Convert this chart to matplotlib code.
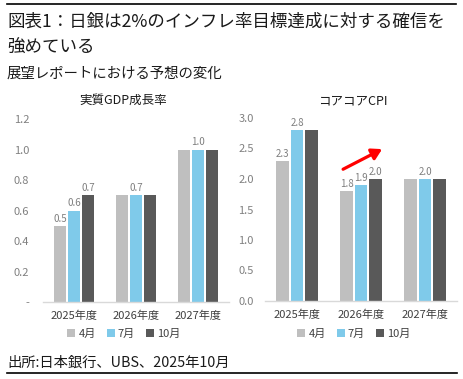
import matplotlib
matplotlib.use("Agg")
import matplotlib.pyplot as plt
from matplotlib.lines import Line2D
from matplotlib.patches import Patch
import numpy as np

plt.rcParams['font.family'] = ['Noto Sans CJK JP', 'DejaVu Sans']

title_lines = ["図表1：日銀は2%のインフレ率目標達成に対する確信を", "強めている"]
subtitle = "展望レポートにおける予想の変化"
source = "出所:日本銀行、UBS、2025年10月"

categories = ["2025年度", "2026年度", "2027年度"]
series_names = ["4月", "7月", "10月"]
colors = ["#BFBFBF", "#7FCAEA", "#595959"]

gdp_title = "実質GDP成長率"
gdp_apr = [0.5, 0.7, 1.0]
gdp_jul = [0.6, 0.7, 1.0]
gdp_oct = [0.7, 0.7, 1.0]
gdp_ticks = [0.0, 0.2, 0.4, 0.6, 0.8, 1.0, 1.2]
gdp_ticklabels = ["-", "0.2", "0.4", "0.6", "0.8", "1.0", "1.2"]
# which bars carry a value label: (series index, category index)
gdp_labelled = [(0, 0), (1, 0), (2, 0), (1, 1), (1, 2)]

cpi_title = "コアコアCPI"
cpi_apr = [2.3, 1.8, 2.0]
cpi_jul = [2.8, 1.9, 2.0]
cpi_oct = [2.8, 2.0, 2.0]
cpi_ticks = [0.0, 0.5, 1.0, 1.5, 2.0, 2.5, 3.0]
cpi_ticklabels = ["0.0", "0.5", "1.0", "1.5", "2.0", "2.5", "3.0"]
cpi_labelled = [(0, 0), (1, 0), (0, 1), (1, 1), (2, 1), (1, 2)]

W, H = 464, 379
fig = plt.figure(figsize=(W / 100, H / 100), dpi=100)

def fx(px):
    return px / W

def fy(py):
    return 1 - py / H

# header / footer lines
fig.add_artist(Line2D([fx(7), fx(456)], [fy(4), fy(4)], color="black", lw=1.2))
fig.add_artist(Line2D([fx(7), fx(457)], [fy(373), fy(373)], color="black", lw=1.2))

fig.text(fx(7), fy(22), title_lines[0], fontsize=12.6, va="center", ha="left", color="#1a1a1a")
fig.text(fx(7), fy(48), title_lines[1], fontsize=12.6, va="center", ha="left", color="#1a1a1a")
fig.text(fx(7), fy(74), subtitle, fontsize=10.4, va="center", ha="left", color="#1a1a1a")
fig.text(fx(7), fy(363), source, fontsize=10.3, va="center", ha="left", color="#1a1a1a")

def draw_panel(rect, series, ticks, ticklabels, ymax, labelled, title, title_xy, legend_xy, ypad):
    ax = fig.add_axes(rect)
    x = np.arange(len(categories))
    bw = 0.2
    offs = [-0.225, 0.0, 0.225]
    for i, (vals, c) in enumerate(zip(series, colors)):
        ax.bar(x + offs[i], vals, width=bw, color=c, label=series_names[i], zorder=2)
        for j, v in enumerate(vals):
            if (i, j) in labelled:
                ax.text(x[j] + offs[i], v + ymax * 0.012, f"{v:.1f}", ha="center", va="bottom",
                        fontsize=7, color="#7F7F7F")
    ax.set_xlim(-0.5, 2.5)
    ax.set_ylim(0, ymax)
    ax.set_yticks(ticks)
    ax.set_yticklabels(ticklabels)
    ax.set_xticks(x)
    ax.set_xticklabels(categories)
    for s in ["top", "right", "left"]:
        ax.spines[s].set_visible(False)
    ax.spines["bottom"].set_color("#D9D9D9")
    ax.spines["bottom"].set_linewidth(1.0)
    ax.tick_params(axis="y", length=0, labelsize=8, labelcolor="#808080", pad=ypad)
    ax.tick_params(axis="x", length=0, labelsize=8, labelcolor="#404040", pad=6)
    fig.text(fx(title_xy[0]), fy(title_xy[1]), title, fontsize=9, ha="center", va="center", color="#1a1a1a")
    handles = [Patch(facecolor=c, edgecolor="none") for c in colors]
    fig.legend(handles, series_names, loc="center", bbox_to_anchor=(fx(legend_xy[0]), fy(legend_xy[1])),
               ncol=3, frameon=False, fontsize=8, handlelength=0.7, handleheight=0.7,
               handletextpad=0.3, columnspacing=1.0, labelcolor="#404040")
    return ax

ax1 = draw_panel([fx(43), fy(302), fx(186), (302 - 119) / H],
                 [gdp_apr, gdp_jul, gdp_oct], gdp_ticks, gdp_ticklabels, 1.2, gdp_labelled,
                 gdp_title, (123, 100), (124, 334), 10)
ax2 = draw_panel([fx(265), fy(301), fx(192), (301 - 118) / H],
                 [cpi_apr, cpi_jul, cpi_oct], cpi_ticks, cpi_ticklabels, 3.0, cpi_labelled,
                 cpi_title, (353, 101), (354, 334), 8)

ax2.annotate("", xy=(1.33, 2.49), xytext=(0.72, 2.16),
             arrowprops=dict(arrowstyle="-|>,head_length=0.6,head_width=0.35", color="#FF0000", lw=2.3,
                             shrinkA=0, shrinkB=0))

fig.savefig("out.png", dpi=100)
